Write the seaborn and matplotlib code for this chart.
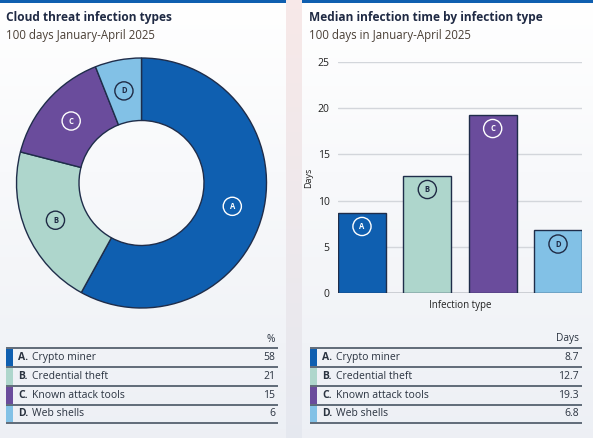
import numpy as np
import pandas as pd
import seaborn as sns
import matplotlib.pyplot as plt

# Data
letters = ['A', 'B', 'C', 'D']
types = ['Crypto miner', 'Credential theft', 'Known attack tools', 'Web shells']
share_pct = [58, 21, 15, 6]
median_days = [8.7, 12.7, 19.3, 6.8]
day_labels = ['8.7', '12.7', '19.3', '6.8']
colors = ['#0f5fb0', '#aed6cc', '#6a4c9c', '#82c1e6']
letter_colors = ['white', '#1f2a44', 'white', '#1f2a44']

sns.set_theme(style='white')
plt.rcParams['font.family'] = ['Open Sans', 'DejaVu Sans']

W, H = 593, 438
fig = plt.figure(figsize=(W / 100, H / 100), dpi=100)

navy = '#1f2a44'
edge = '#1f2d4a'
text_col = '#2a3340'
sub_col = '#4a3f35'
line_col = '#55606e'


def px_axes(x0, y0, x1, y1, **kw):
    # axes from pixel box, y measured from the top
    return fig.add_axes([x0 / W, 1 - y1 / H, (x1 - x0) / W, (y1 - y0) / H], **kw)


# page background (pinkish at top, grey at bottom)
bg = px_axes(0, 0, W, H)
grad = np.linspace(0, 1, 256)[:, None]
top_c = np.array([0.97, 0.91, 0.91])
bot_c = np.array([0.90, 0.91, 0.94])
bg.imshow(top_c + grad[..., None] * (bot_c - top_c), aspect='auto', extent=[0, 1, 0, 1])
bg.axis('off')

# panels
for x0, x1 in [(0, 286), (302, W)]:
    p = px_axes(x0, 0, x1, H)
    pt = np.array([1.0, 1.0, 1.0])
    pb = np.array([0.93, 0.94, 0.96])
    p.imshow(pt + grad[..., None] * (pb - pt), aspect='auto', extent=[0, 1, 0, 1])
    p.axis('off')
    strip = px_axes(x0, 0, x1, 2.5)
    strip.set_facecolor('#0f5fb0')
    strip.set_xticks([])
    strip.set_yticks([])
    for s in strip.spines.values():
        s.set_visible(False)

circ = dict(fontsize=5.5, fontweight='bold', ha='center', va='center')

# donut
ax1 = px_axes(141.5 - 125, 183 - 125, 141.5 + 125, 183 + 125)
wedges, _ = ax1.pie(share_pct, colors=colors, startangle=90, counterclock=False,
                    radius=1, wedgeprops=dict(width=0.5, edgecolor=edge, linewidth=1))
ax1.set_xlim(-1, 1)
ax1.set_ylim(-1, 1)
ax1.set_aspect('equal')
ax1.axis('off')
for w, let, lc in zip(wedges, letters, letter_colors):
    ang = np.deg2rad((w.theta1 + w.theta2) / 2)
    ax1.text(0.75 * np.cos(ang), 0.75 * np.sin(ang), let, color=lc,
             bbox=dict(boxstyle='circle,pad=0.6', fc='none', ec=lc, lw=1), **circ)

# bar chart
ax2 = px_axes(338, 62, 582, 293)
df = pd.DataFrame({'type': letters, 'days': median_days})
sns.barplot(data=df, x='type', y='days', hue='type', palette=colors, width=0.73,
            saturation=1, edgecolor=edge, linewidth=1, legend=False, ax=ax2, zorder=3)
ax2.set_facecolor('none')
ax2.set_xlim(-0.367, 3.367)
ax2.set_ylim(0, 25)
ax2.set_yticks([0, 5, 10, 15, 20, 25])
ax2.grid(axis='y', color='#d3d6db', lw=1, zorder=0)
ax2.axhline(0, color='#c9ccd2', lw=2, zorder=2)
ax2.set_xticks([])
for s in ax2.spines.values():
    s.set_visible(False)
ax2.tick_params(axis='y', length=0, pad=6, labelsize=7.5, labelcolor='#222')
ax2.set_xlabel('Infection type', fontsize=7, color='#222', labelpad=5)
ax2.set_ylabel('Days', fontsize=6.5, color='#222', labelpad=3)
for i, (v, let, lc) in enumerate(zip(median_days, letters, letter_colors)):
    ax2.text(i, v - 1.5, let, color=lc, zorder=5,
             bbox=dict(boxstyle='circle,pad=0.6', fc='none', ec=lc, lw=1), **circ)

# overlay for titles and tables (pixel coords)
ov = px_axes(0, 0, W, H)
ov.set_xlim(0, W)
ov.set_ylim(H, 0)
ov.axis('off')
ov.patch.set_alpha(0)

ov.text(6, 17, 'Cloud threat infection types', fontsize=8.6, fontweight='bold',
        color=navy, va='center')
ov.text(6, 36, '100 days January-April 2025', fontsize=8.3, color=sub_col, va='center')
ov.text(309, 17, 'Median infection time by infection type', fontsize=8.6,
        fontweight='bold', color=navy, va='center')
ov.text(309, 36, '100 days in January-April 2025', fontsize=8.3, color=sub_col,
        va='center')

row_lines = [348, 367, 386, 404.5, 423]


def draw_table(x0, x1, header, values):
    ov.text(x1 - 3, 339, header, ha='right', va='center', fontsize=7.3, color=text_col)
    for y in row_lines:
        ov.plot([x0, x1], [y, y], color=line_col, lw=1.3, solid_capstyle='butt')
    for i in range(len(letters)):
        ya, yb = row_lines[i], row_lines[i + 1]
        ov.add_patch(plt.Rectangle((x0, ya + 0.7), 6.5, yb - ya - 1.4, color=colors[i], lw=0))
        yc = (ya + yb) / 2
        ov.text(x0 + 12, yc, letters[i] + '.', ha='left', va='center', fontsize=7.5,
                fontweight='bold', color=text_col)
        ov.text(x0 + 26, yc, types[i], ha='left', va='center', fontsize=7.5, color=text_col)
        ov.text(x1 - 3, yc, values[i], ha='right', va='center', fontsize=7.5, color=text_col)


draw_table(6, 278, '%', [str(v) for v in share_pct])
draw_table(310, 582, 'Days', day_labels)

fig.savefig('out.png', dpi=100)
